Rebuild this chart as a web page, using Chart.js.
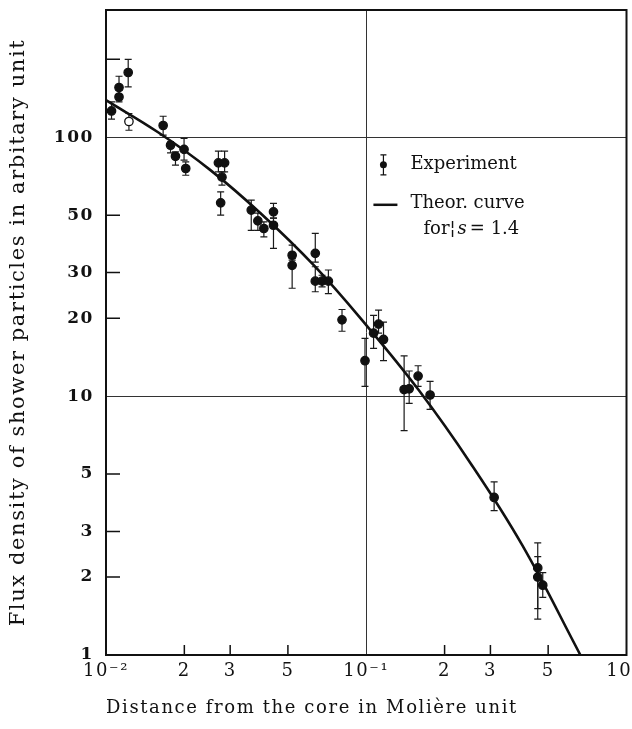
<!DOCTYPE html>
<html>
<head>
<meta charset="utf-8">
<script src="https://cdn.jsdelivr.net/npm/chart.js@4.4.1/dist/chart.umd.min.js"></script>
<style>
html, body { margin: 0; padding: 0; background: #fff; }
#wrap { width: 632px; height: 729px; }
</style>
</head>
<body>
<div id="wrap"><canvas id="fluxChart"></canvas></div>
<script>
// measured points: distance (Moliere units) and flux density, with error bar ends
var expX  = [0.0105, 0.01122, 0.01122, 0.01217, 0.01225, 0.01658, 0.0177, 0.01849, 0.01995, 0.02025,
             0.02703, 0.02856, 0.0279, 0.02758, 0.03615, 0.03833, 0.04042, 0.04401, 0.04401, 0.05191,
             0.05191, 0.0637, 0.0637, 0.06764, 0.07153, 0.0807, 0.0989, 0.1067, 0.1115, 0.1165,
             0.1398, 0.1462, 0.1582, 0.1759, 0.310, 0.456, 0.456, 0.4767];
var expY  = [126.3, 155.6, 143, 177.8, 115, 111, 93.1, 84.4, 89.7, 75.7,
             79.6, 79.6, 70.1, 55.8, 52.3, 47.5, 44.4, 51.5, 45.7, 35.0,
             32.0, 35.6, 27.8, 27.8, 27.8, 19.7, 13.7, 17.5, 18.97, 16.55,
             10.6, 10.67, 11.95, 10.1, 4.06, 2.17, 2.0, 1.86];
var expHi = [136.9, 172, 152, 200, 123.5, 120.5, 95.9, 87.7, 98.9, 80.3,
             88.3, 88.3, 73.5, 61.5, 57.1, 50.9, 47.1, 55.5, 48.7, 38.3,
             34.0, 42.5, 31.6, 29.3, 30.7, 21.6, 16.7, 20.5, 21.5, 19.3,
             14.3, 12.5, 13.1, 11.4, 4.66, 2.71, 2.40, 2.08];
var expLo = [117.4, 145, 136.9, 156.4, 106.4, 101.8, 87.0, 78.0, 81.5, 71.3,
             73.5, 73.5, 65.3, 50.0, 43.7, 43.7, 41.2, 48.7, 37.2, 33.5,
             26.1, 32.9, 25.3, 26.4, 24.9, 17.8, 10.9, 15.3, 17.5, 13.7,
             7.35, 9.37, 10.9, 8.89, 3.61, 1.51, 1.377, 1.67];
var hollowIndex = 4;

// theoretical curve for s = 1.4
var curveX = [0.0100, 0.01585, 0.02512, 0.03981, 0.0631, 0.100, 0.1585, 0.2512, 0.3981, 0.665];
var curveY = [139, 104.5, 74.8, 50.2, 31.9, 18.8, 10.6, 5.52, 2.65, 1.0];

var xTickVals = [0.01, 0.02, 0.03, 0.05, 0.1, 0.2, 0.3, 0.5, 1];
var xTickText = ['10\u207B\u00B2', '2', '3', '5', '10\u207B\u00B9', '2', '3', '5', '10  '];
var yTickVals = [1, 2, 3, 5, 10, 20, 30, 50, 100];
var yTickText = ['1', '2', '3', '5', '10', '20', '30', '50', '100'];
var xMinor = [0.02, 0.03, 0.05, 0.2, 0.3, 0.5];
var yMinor = [2, 3, 5, 20, 30, 50, 200];
var xGrid = [0.1];
var yGrid = [10, 100];

var SERIF = "'DejaVu Serif', 'Liberation Serif', serif";

// wider letter spacing for the axis texts, like the printed figure
var spacing = {
	id: 'spacing',
	beforeDraw: function (chart) { chart.ctx.letterSpacing = '1.6px'; },
	beforeDatasetsDraw: function (chart) { chart.ctx.letterSpacing = '0px'; }
};

// error bars from the hi/lo arrays
var errorBars = {
	id: 'errorBars',
	beforeDatasetsDraw: function (chart) {
		var ctx = chart.ctx, xs = chart.scales.x, ys = chart.scales.y;
		ctx.save();
		ctx.strokeStyle = '#1a1a1a';
		ctx.lineWidth = 1.2;
		for (var i = 0; i < expX.length; i++) {
			var px = xs.getPixelForValue(expX[i]);
			var top = ys.getPixelForValue(expHi[i]);
			var bot = ys.getPixelForValue(expLo[i]);
			ctx.beginPath();
			ctx.moveTo(px, top); ctx.lineTo(px, bot);
			ctx.moveTo(px - 3.5, top); ctx.lineTo(px + 3.5, top);
			ctx.moveTo(px - 3.5, bot); ctx.lineTo(px + 3.5, bot);
			ctx.stroke();
		}
		ctx.restore();
	}
};

// frame, inward tick marks and the legend box
var frameAndLegend = {
	id: 'frameAndLegend',
	afterDraw: function (chart) {
		var ctx = chart.ctx, a = chart.chartArea, xs = chart.scales.x, ys = chart.scales.y;
		ctx.save();
		ctx.letterSpacing = '0px';
		ctx.strokeStyle = '#111';
		ctx.lineWidth = 2;
		ctx.strokeRect(a.left, a.top, a.right - a.left, a.bottom - a.top);

		ctx.lineWidth = 1.5;
		ctx.beginPath();
		xMinor.forEach(function (v) {
			var px = xs.getPixelForValue(v);
			ctx.moveTo(px, a.bottom); ctx.lineTo(px, a.bottom - 10);
		});
		yMinor.forEach(function (v) {
			var py = ys.getPixelForValue(v);
			ctx.moveTo(a.left, py); ctx.lineTo(a.left + 14, py);
		});
		ctx.stroke();

		// legend
		var lx = a.left + (a.right - a.left) * 0.533;
		var ly = a.top + (a.bottom - a.top) * 0.24;
		ctx.lineWidth = 1.2;
		ctx.beginPath();
		ctx.moveTo(lx, ly - 10); ctx.lineTo(lx, ly + 10);
		ctx.moveTo(lx - 3, ly - 10); ctx.lineTo(lx + 3, ly - 10);
		ctx.moveTo(lx - 3, ly + 10); ctx.lineTo(lx + 3, ly + 10);
		ctx.stroke();
		ctx.fillStyle = '#111';
		ctx.beginPath();
		ctx.arc(lx, ly, 3.5, 0, Math.PI * 2);
		ctx.fill();

		ctx.lineWidth = 2.5;
		ctx.beginPath();
		ctx.moveTo(lx - 10, ly + 40); ctx.lineTo(lx + 14, ly + 40);
		ctx.stroke();

		ctx.font = '18px ' + SERIF;
		ctx.textBaseline = 'middle';
		ctx.textAlign = 'left';
		ctx.fillText('Experiment', lx + 27, ly);
		ctx.fillText('Theor. curve', lx + 27, ly + 39);
		var fx = lx + 40, fy = ly + 65;
		ctx.fillText('for\u00A6', fx, fy);
		var w = ctx.measureText('for\u00A6').width;
		ctx.font = 'italic 18px ' + SERIF;
		ctx.fillText('s', fx + w + 2, fy);
		var ws = ctx.measureText('s').width;
		ctx.font = '18px ' + SERIF;
		ctx.fillText('= 1.4', fx + w + ws + 5, fy);
		ctx.restore();
	}
};

var expData = expX.map(function (x, i) { return { x: x, y: expY[i] }; });
var curveData = curveX.map(function (x, i) { return { x: x, y: curveY[i] }; });
var pointFill = expX.map(function (x, i) { return i === hollowIndex ? '#fff' : '#111'; });

new Chart(document.getElementById('fluxChart'), {
	type: 'scatter',
	data: {
		datasets: [
			{
				label: 'Experiment',
				data: expData,
				pointRadius: 4.2,
				pointBackgroundColor: pointFill,
				pointBorderColor: '#111',
				pointBorderWidth: 1.3,
				showLine: false
			},
			{
				label: 'Theor. curve for s = 1.4',
				data: curveData,
				showLine: true,
				pointRadius: 0,
				borderColor: '#111',
				borderWidth: 2.6,
				tension: 0.4
			}
		]
	},
	options: {
		responsive: true,
		maintainAspectRatio: false,
		animation: false,
		layout: { padding: { top: 10, right: 5, left: 0, bottom: 0 } },
		plugins: { legend: { display: false }, tooltip: { enabled: false } },
		scales: {
			x: {
				type: 'logarithmic',
				min: 0.01,
				max: 1,
				afterBuildTicks: function (scale) {
					scale.ticks = xTickVals.map(function (v) { return { value: v }; });
				},
				afterFit: function (scale) {
					scale.height = 74;
					scale.paddingLeft = 0;
					scale.paddingRight = 0;
				},
				border: { display: false },
				grid: {
					drawTicks: false,
					lineWidth: 1,
					color: function (c) {
						return c.tick && xGrid.indexOf(c.tick.value) >= 0 ? '#333' : 'rgba(0,0,0,0)';
					}
				},
				ticks: {
					autoSkip: false,
					maxRotation: 0,
					padding: 6,
					color: '#111',
					font: { family: SERIF, size: 18 },
					callback: function (v) {
						var i = xTickVals.indexOf(v);
						return i >= 0 ? xTickText[i] : '';
					}
				},
				title: {
					display: true,
					text: 'Distance from the core in Moli\u00E8re unit',
					align: 'start',
					color: '#111',
					font: { family: SERIF, size: 18 },
					padding: { top: 0, bottom: 10 }
				}
			},
			y: {
				type: 'logarithmic',
				min: 1,
				max: 310,
				afterBuildTicks: function (scale) {
					scale.ticks = yTickVals.map(function (v) { return { value: v }; });
				},
				afterFit: function (scale) {
					scale.width = 106;
					scale.paddingTop = 0;
					scale.paddingBottom = 0;
				},
				border: { display: false },
				grid: {
					drawTicks: false,
					lineWidth: 1,
					color: function (c) {
						return c.tick && yGrid.indexOf(c.tick.value) >= 0 ? '#333' : 'rgba(0,0,0,0)';
					}
				},
				ticks: {
					autoSkip: false,
					padding: 12,
					color: '#111',
					font: { family: SERIF, size: 17, weight: 'bold' },
					callback: function (v) {
						var i = yTickVals.indexOf(v);
						return i >= 0 ? yTickText[i] : '';
					}
				},
				title: {
					display: true,
					text: 'Flux density of shower particles in arbitary unit',
					color: '#111',
					font: { family: SERIF, size: 21 },
					padding: { top: 6, bottom: 0 }
				}
			}
		}
	},
	plugins: [spacing, errorBars, frameAndLegend]
});
</script>
</body>
</html>
